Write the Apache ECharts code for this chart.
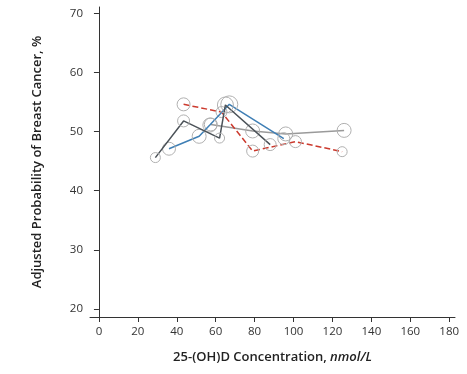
<!DOCTYPE html>
<html><head><meta charset="utf-8">
<script src="https://cdn.jsdelivr.net/npm/echarts@6/dist/echarts.min.js"></script>
<style>html,body{margin:0;padding:0;background:#fff}#c{width:467px;height:374px}</style>
</head><body><div id="c"></div>
<script>
// Data: [concentration nmol/L, adjusted probability %, marker size]
const darkSeries = [[29,45.6,10],[43.5,51.8,12],[62,48.9,10],[65,54.5,16],[88,47.8,12]];
const blueSeries = [[36,47.1,13],[51.5,49.2,14],[57,51.1,14],[67,54.6,17],[95,48.8,12]];
const graySeries = [[57.5,51.2,13],[79,50.1,14],[96,49.6,14],[126,50.2,14]];
const redSeries  = [[43.5,54.6,13],[63,53.3,11],[79,46.7,12],[101,48.3,12],[125,46.6,10]];
const xTicks = [0,20,40,60,80,100,120,140,160,180];
const yTicks = [20,30,40,50,60,70];

const font = 'Open Sans';
function mk(name, data, color, type, z){
  return {
    name, type:'line', data: data.map(d=>({value:[d[0],d[1]], symbolSize:d[2]})),
    symbol:'circle', z,
    lineStyle:{color, width:1.5, type},
    itemStyle:{color:'rgba(0,0,0,0)', borderColor:'#b0b0b0', borderWidth:1},
    emphasis:{disabled:true}, animation:false
  };
}
const chart = echarts.init(document.getElementById('c'));
chart.setOption({
  animation:false,
  grid:{left:90, top:7, right:12, bottom:57, containLabel:false},
  xAxis:{
    type:'value', min:-4.6, max:183,
    axisLine:{show:true, lineStyle:{color:'#333', width:1}},
    axisTick:{show:true, length:5, lineStyle:{color:'#333'}, customValues:xTicks},
    axisLabel:{show:true, customValues:xTicks, color:'#333', fontFamily:font, fontSize:11.5, margin:9},
    splitLine:{show:false},
    name:'{a|25-(OH)D Concentration, }{b|nmol/L}', nameLocation:'middle', nameGap:34,
    nameTextStyle:{rich:{
      a:{fontFamily:font, fontSize:13, fontWeight:600, color:'#222'},
      b:{fontFamily:font, fontSize:13, fontWeight:600, fontStyle:'italic', color:'#222'}
    }}
  },
  yAxis:{
    type:'value', min:18.65, max:71.06,
    axisLine:{show:true, lineStyle:{color:'#333', width:1}},
    axisTick:{show:true, length:5, lineStyle:{color:'#333'}, customValues:yTicks},
    axisLabel:{show:true, customValues:yTicks, color:'#333', fontFamily:font, fontSize:11.5, margin:7},
    splitLine:{show:false},
    name:'Adjusted Probability of Breast Cancer, %', nameLocation:'middle', nameGap:46,
    nameTextStyle:{fontFamily:font, fontSize:13, fontWeight:600, color:'#222'}
  },
  series:[
    mk('gray', graySeries, '#9a9a9a', 'solid', 2),
    mk('red', redSeries, '#cc3a2e', 'dashed', 3),
    mk('blue', blueSeries, '#3f7fb5', 'solid', 4),
    mk('dark', darkSeries, '#4b5258', 'solid', 5)
  ]
});
</script></body></html>
